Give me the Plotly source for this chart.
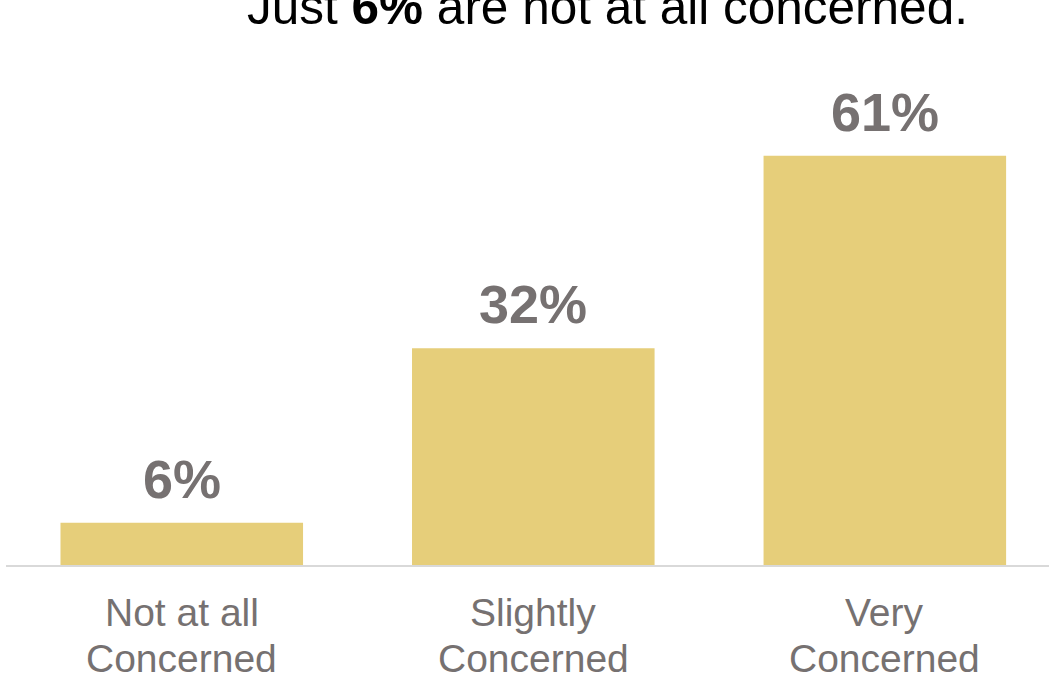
import plotly.graph_objects as go

categories = ["Not at all<br>Concerned", "Slightly<br>Concerned", "Very<br>Concerned"]
values = [6.3, 32.3, 61.0]
labels = ["6%", "32%", "61%"]
positions = [0, 1, 2]

BAR = "#E6CE7A"
GRAY = "#767171"
FONT = "Liberation Sans, Arial, sans-serif"

fig = go.Figure()
fig.add_trace(go.Bar(x=positions, y=values, width=0.69, marker=dict(color=BAR, line=dict(width=0)),
                     hoverinfo="skip"))

for p, v, t in zip(positions, values, labels):
    fig.add_annotation(x=p, y=v, text=f"<b>{t}</b>", showarrow=False, yanchor="bottom",
                       yshift=12, font=dict(family=FONT, size=54, color=GRAY))

# category labels, one annotation per line for tight line spacing
for p, cat in zip(positions, categories):
    for i, line in enumerate(cat.split("<br>")):
        fig.add_annotation(x=p, xref="x", yref="paper", y=0, yanchor="middle",
                           yshift=-47 - 46 * i, text=line, showarrow=False,
                           font=dict(family=FONT, size=39, color=GRAY))

fig.add_annotation(xref="paper", yref="paper", x=0.5765, y=1, yanchor="bottom", yshift=-36,
                   text="Just <b>6%</b> are not at all concerned.", showarrow=False,
                   font=dict(family=FONT, size=49.5, color="#000000"))

fig.update_layout(
    width=1049, height=677,
    margin=dict(l=6, r=0, t=0, b=112, autoexpand=False),
    paper_bgcolor="white", plot_bgcolor="white",
    showlegend=False,
    xaxis=dict(range=[-0.5, 2.467], tickvals=positions, showticklabels=False, automargin=False,
               showline=True, linecolor="#D9D9D9", linewidth=2, showgrid=False, zeroline=False,
               ticks=""),
    yaxis=dict(range=[0, 84.2], visible=False, showgrid=False, zeroline=False, automargin=False),
)

fig.write_html("out.html", config={"displayModeBar": False},
               post_script="document.body.style.margin='0';document.body.style.overflow='hidden';")
